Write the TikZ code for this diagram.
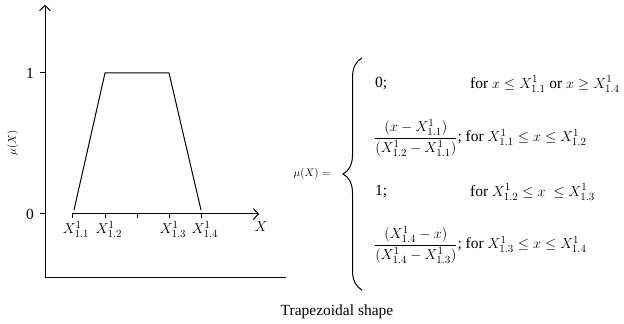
\documentclass[tikz,border=0pt]{standalone}
\usepackage{amsmath}
\usepackage{fontspec}
\setmainfont{Liberation Serif}
\usetikzlibrary{arrows.meta, decorations.pathreplacing}

\begin{document}
\begin{tikzpicture}[x=1pt,y=1pt,
    axis/.style={line width=1pt},
    lbl/.style={font=\fontsize{15.5}{18}\selectfont,inner sep=0pt},
    small/.style={font=\fontsize{11}{13}\selectfont,inner sep=0pt},
    >={Straight Barb[length=5pt,width=11pt]}]
  \useasboundingbox (0,0) rectangle (624,324);
  % outer frame of the plot
  \coordinate (o) at (45,46);
  \coordinate (ytop) at (45,319);
  \coordinate (xend) at (286,46);
  \draw[axis,->] (o) -- (ytop);
  \draw[axis] (o) -- (xend);
  \foreach \yy/\txt in {110/0,251/1}{
    \draw[axis] (40,\yy) -- (45,\yy);
    \node[lbl] (ylab\txt) at (30,\yy) {\txt};
  }
  \node[small,rotate=90] (mu) at (13,181) {$\mu(X)$};
  % inner x axis
  \coordinate (xa) at (72,110);
  \coordinate (xb) at (259,110);
  \draw[axis,->] (xa) -- (xb);
  \node[lbl] (xlab) at (261,97) {$X$};
  \foreach \xx/\k in {72/1,105/2,169/3,201/4}{
    \draw[axis] (\xx,110) -- (\xx,106);
    \node[lbl,anchor=north] (t\k) at (\xx+4,103) {$X^{1}_{1.\k}$};
  }
  \draw[axis] (137,110) -- (137,106);
  % trapezoid
  \draw[axis] (74,114) -- (105,251) -- (169,251) -- (201,114);
  % definition
  \node[small] (mueq) at (312,150) {$\mu(X) =$};
  \draw[axis,decorate,decoration={brace,amplitude=19pt}] (362,34) -- (362,266);
  \node[lbl,anchor=west] (r1a) at (375,240) {0;};
  \node[lbl,anchor=west] (r1b) at (470,240) {for $x \le X^{1}_{1.1}$ or $x \ge X^{1}_{1.4}$};
  \node[lbl,anchor=west] (r2) at (374,186)
    {$\dfrac{(x - X^{1}_{1.1})}{(X^{1}_{1.2} - X^{1}_{1.1})}$; for $X^{1}_{1.1} \le x \le X^{1}_{1.2}$};
  \node[lbl,anchor=west] (r3a) at (375,132) {1;};
  \node[lbl,anchor=west] (r3b) at (470,132) {for $X^{1}_{1.2} \le x\ \le X^{1}_{1.3}$};
  \node[lbl,anchor=west] (r4) at (374,79)
    {$\dfrac{(X^{1}_{1.4} - x)}{(X^{1}_{1.4} - X^{1}_{1.3})}$; for $X^{1}_{1.3} \le x \le X^{1}_{1.4}$};
  \node[lbl] (cap) at (337,12) {Trapezoidal shape};
\end{tikzpicture}
\end{document}
